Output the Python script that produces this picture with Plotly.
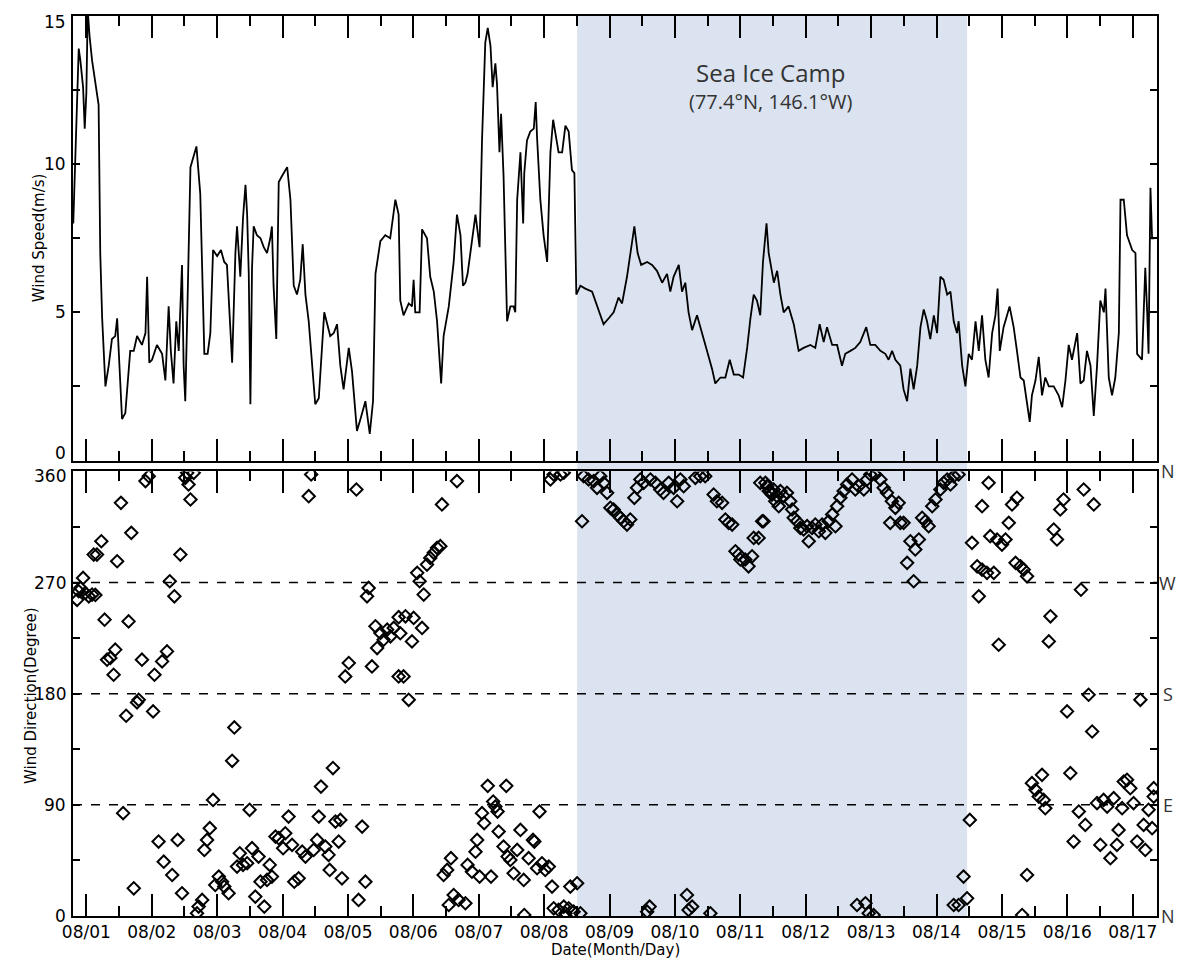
import plotly.graph_objects as go
from plotly.subplots import make_subplots

# ---------------- data (hours since 08/01 00:00) ----------------
speed_h = [-4.8,-2.8,-2.2,-1.2,-0.6,0,0.5,1.2,2.1,3.3,4.5,5.1,5.8,7.0,8.2,9.4,10.6,11.3,11.9,13.1,14.3,16.1,17.4,18.6,20.4,21.7,22.3,23.1,24.1,25.9,27.8,29.0,30.2,31.0,32.0,33.0,33.9,34.5,35.1,35.7,36.3,37.0,38.2,40.4,41.8,43.3,44.5,45.5,46.5,48.0,49.4,50.6,51.6,53.5,54.7,55.3,55.9,56.5,57.5,58.4,59.0,59.6,60.2,60.8,61.4,62.6,63.9,65.1,66.3,67.5,68.1,68.7,69.7,70.6,71.8,73.7,74.9,76.1,77.3,78.5,79.4,80.4,81.6,82.8,84.0,85.3,86.5,87.3,89.5,90.8,92.0,93.2,94.4,96.3,97.5,99.3,100.6,102.4,104.0,105.2,106.1,107.9,109.7,111.5,113.4,114.6,
           115.2,116.4,118.3,119.5,120.1,120.7,122.3,123.2,125.0,126.2,127.5,128.7,130.2,131.1,133.0,134.8,136.0,137.3,138.2,139.1,139.9,142.8,144.3,145.2,146.4,147.3,148.3,149.1,150.1,150.7,151.6,152.2,153.1,154.4,155.6,156.8,157.4,158.1,159.3,160.3,160.7,161.7,162.9,164.2,164.9,165.4,166.6,167.8,169.1,170.3,171.3,172.1,173.3,174.6,175.8,177.0,178.2,179.1,179.8,181.3,183.1,185.6,187.4,189.8,191.7,193.5,195.3,196.6,198.4,199.6,201.1,202.3,203.6,205.8,207.6,209.4,211.3,213.1,214.3,215.5,217.4,218.6,219.8,221.0,222.3,224.1,226.0,227.8,229.6,230.8,232.7,234.5,236.1,237.6,239.4,241.0,242.5,243.7,244.9,246.1,247.3,248.3,249.6,
           250.4,252.3,253.5,254.7,255.9,257.7,259.6,261.4,263.2,265.7,267.5,269.1,270.6,271.8,273.7,275.5,277.3,278.5,280.4,282.2,284.0,286.2,287.7,289.5,291.4,293.2,294.4,295.7,296.9,298.7,299.9,301.2,302.4,303.6,304.9,306.1,307.3,308.5,309.7,311.0,312.2,313.4,314.6,315.9,317.1,318.3,319.5,320.1,321.4,322.6,323.8,325.0,326.3,327.5,328.7,329.9,331.1,332.4,333.6,334.4,335.2,336.6,338.8,340.3,341.5,342.8,344.0,345.2,346.2,347.0,348.3,349.5,350.7,351.9,353.2,355.0,356.8,358.1,359.3,360.5,361.7,363.6,364.8,366.0,367.2,368.5,369.7,370.9,372.1,373.4,374.0,375.2,376.4,377.6,378.9,379.5,380.7,381.9,383.8,385.0,385.6,387.4,388.6,389.3,389.8,390.5,391.1,391.9]
speed_ms = [8.0,13.9,13.5,12.6,11.2,12.4,15.2,14.3,13.5,12.7,12.0,7.0,4.8,2.5,3.2,4.1,4.2,4.8,3.7,1.4,1.6,3.7,3.7,4.2,3.9,4.3,6.2,3.3,3.4,3.9,3.6,2.7,5.2,3.7,2.6,4.7,3.7,5.0,6.6,3.2,2.0,4.8,9.9,10.6,9.0,3.6,3.6,4.3,7.1,6.9,7.1,6.7,6.6,3.3,7.0,7.9,7.0,6.2,8.2,9.3,8.3,6.3,1.9,6.5,7.9,7.6,7.5,7.2,7.0,7.5,7.9,5.9,4.1,9.4,9.6,9.9,8.8,5.9,5.6,6.1,7.3,5.6,4.7,3.3,1.9,2.1,3.9,5.0,4.2,4.3,4.6,3.2,2.4,3.8,3.0,1.0,1.4,2.0,0.9,2.0,6.3,7.4,7.6,7.5,8.8,8.3,
            5.4,4.9,5.3,5.2,6.1,5.0,5.0,7.8,7.5,6.2,5.7,4.7,2.6,4.2,5.2,6.7,8.3,7.6,5.9,6.0,6.3,8.3,7.2,10.8,14.1,14.6,14.0,12.6,13.4,12.7,10.4,11.7,9.6,4.7,5.2,5.2,5.0,8.8,10.4,8.0,9.7,10.8,11.1,11.2,12.1,10.9,8.8,7.6,6.7,10.4,11.5,11.1,10.4,10.4,11.3,11.1,9.8,9.7,5.6,5.9,5.8,5.7,5.2,4.6,4.8,5.0,5.5,5.3,6.2,7.0,7.9,7.0,6.6,6.7,6.6,6.4,6.0,6.3,5.7,6.2,6.6,5.7,6.0,5.0,4.4,4.9,4.3,3.7,3.1,2.6,2.8,2.8,3.4,2.9,2.9,2.8,3.8,4.8,5.6,5.4,4.9,6.7,8.0,
            7.0,6.0,6.4,5.6,5.0,5.2,4.6,3.7,3.8,3.9,3.8,4.6,4.0,4.5,3.9,3.9,3.2,3.6,3.7,3.8,4.0,4.5,3.9,3.9,3.7,3.6,3.4,3.7,3.4,3.2,2.4,2.0,3.1,2.4,3.2,4.5,5.1,4.7,4.1,4.9,4.3,6.2,6.1,5.6,5.7,4.7,4.3,4.7,3.2,2.5,3.6,3.4,4.7,3.7,4.9,3.4,2.8,4.3,4.9,5.8,3.7,4.5,5.2,4.5,3.7,2.8,2.7,2.0,1.3,2.2,2.7,3.5,2.2,2.8,2.5,2.5,2.2,1.8,2.7,3.9,3.4,4.3,2.6,2.7,3.7,3.2,1.5,3.2,5.4,5.0,5.8,2.8,2.2,2.8,4.3,8.8,8.8,7.6,7.1,7.0,3.6,3.4,6.5,5.0,3.6,9.2,7.5,7.5]

dir_h = [-3.4,-2.2,-1.2,-2.8,-0.4,0.9,2.1,3.3,2.7,3.9,5.5,6.7,7.6,8.8,10.6,10.0,11.3,12.7,13.5,14.6,16.5,15.5,17.4,18.6,19.2,20.4,21.7,22.9,24.5,25.0,26.5,27.8,28.4,29.6,30.6,31.5,32.3,33.5,34.5,35.1,36.3,37.0,37.5,38.2,39.4,40.6,41.2,42.5,43.3,44.3,45.3,46.5,47.3,48.6,49.8,50.6,52.2,53.5,54.3,55.3,56.3,57.5,59.0,59.9,60.8,62.0,63.2,63.9,65.3,66.3,67.3,68.1,69.4,70.6,72.2,73.0,74.2,75.5,76.3,77.9,79.2,80.4,81.6,82.5,83.4,84.7,85.3,86.1,87.7,88.9,89.3,90.5,91.4,92.6,93.2,93.8,95.0,96.3,99.1,99.9,101.2,102.4,103.0,103.6,104.8,106.1,106.7,107.9,109.1,110.4,111.6,112.8,114.6,114.6,
         115.2,116.4,117.1,118.3,119.5,120.1,121.4,122.3,123.2,123.8,125.0,126.2,127.5,128.7,129.9,130.5,136.0,131.1,132.4,133.8,133.0,134.8,136.6,139.1,139.9,141.5,142.8,143.4,144.3,145.2,146.0,147.3,148.5,149.3,150.1,150.9,151.3,153.1,154.1,154.6,155.6,156.8,158.1,159.3,160.5,160.7,162.3,163.9,164.4,165.4,166.3,167.2,168.4,169.7,170.9,171.5,173.3,175.2,175.8,177.0,177.6,178.8,180.1,181.3,170.3,171.5,174.0,175.2,
         181.9,182.5,184.3,186.2,187.4,188.6,189.8,191.1,192.3,193.5,194.8,196.0,197.2,198.4,199.6,201.1,202.1,203.3,204.5,205.8,206.7,207.0,208.8,210.6,211.8,213.7,215.5,216.8,218.0,219.2,220.4,221.0,222.3,223.5,225.3,227.1,229.0,230.2,231.4,233.3,234.5,235.7,237.0,238.2,239.4,240.0,241.8,243.0,244.3,244.9,246.7,248.0,249.2,250.4,251.6,252.8,254.1,
         247.3,248.5,249.8,251.0,252.2,253.5,254.7,255.9,257.1,258.3,259.0,259.6,260.8,262.0,263.2,265.1,264.5,266.3,267.5,268.8,270.0,271.2,272.4,273.7,274.9,275.5,276.7,277.9,279.2,281.0,282.2,283.4,285.3,286.5,287.7,289.5,291.4,292.6,293.8,295.0,295.6,296.9,298.1,298.7,299.9,301.2,302.4,303.6,304.2,305.5,306.7,307.9,309.1,310.4,311.6,313.4,314.6,315.9,317.1,318.3,320.1,318.3,320.1,321.9,323.2,282.8,285.9,287.1,288.9,
         324.2,325.0,326.9,327.5,328.7,328.7,330.5,331.1,331.7,333.0,334.2,334.8,336.0,337.3,338.5,339.7,341.5,341.0,342.8,344.0,345.2,343.4,345.2,347.0,348.3,349.5,350.7,351.3,351.9,353.2,353.8,355.0,356.2,357.4,358.6,359.9,361.1,362.3,364.2,365.0,366.0,366.6,367.8,369.1,369.7,370.9,372.1,373.3,374.6,375.8,377.0,378.2,378.8,380.1,380.7,381.9,383.1,384.3,385.6,386.8,388.0,388.6,389.8,391.1,391.7,391.7]
dir_deg = [256,265.7,273.8,263,261.6,258.9,260.3,260,292.7,292.7,303.5,240,207.6,209,215.7,195.4,287.3,334.6,83.3,162.2,310.3,238.6,22.4,173,175.1,207.6,352.2,356.2,165.7,195.4,60.3,206.2,44,214.3,271.1,33.2,258.9,61.6,292.7,18.4,354.9,358.9,349.5,337.3,358.9,2.2,7.6,13,53.5,61.6,71.1,94,25.1,31.9,27.8,23.8,18.4,125.7,152.7,40,50.8,41.4,42.7,86,54.9,15.7,48.1,27.8,7.6,29.2,41.4,31.9,64.3,63,54.9,67,80.5,57.6,27.8,30.5,52.1,48.1,340,357.6,53.5,61.6,80.5,104.8,56.2,49.5,37.3,119.8,76.5,60.3,77.8,30.5,194,204.9,345.4,13,72.4,27.8,258.9,265.7,202.1,234.6,217,229.2,223.8,231.9,226.5,233.3,194,242,
           229,194,242.7,175.1,222.4,241.4,277.9,271.1,233.3,260.3,284.6,290,294.1,298.2,299.5,333.3,352.2,33.2,37.3,46.8,8.9,17,13,10.3,41.4,35.9,52.1,61.6,31.9,83.3,75.2,105.4,31.9,92.7,88.6,84.6,68.4,56.2,105.4,48.1,45.4,34.6,53.5,69.7,29.2,0.8,46.8,61.6,60.3,38.7,84.6,42.7,37.3,40,23.8,6.2,4.9,7.6,2.2,6.2,23.8,3.5,26.5,2.2,353.5,357.6,357.6,359,
           319.7,356.2,353.5,352.2,346.8,356.2,350.8,342.7,330.6,329.2,325.2,322.5,319.7,317,321.1,338.7,346.8,353.5,350.8,3.5,7.6,353.5,350.8,345.4,342.7,350.8,346.8,335.9,353.5,348.1,17,4.9,7.6,354.9,356.2,356.2,2.2,341.3,335.9,334.6,321.1,318.4,317,295.4,292.7,288.7,288.7,283.2,291.3,306.2,306.2,319.7,350.8,344.1,341.3,335.9,331.9,
           350.8,319.7,348.1,344.1,345.4,340,344.1,340,342.7,335.9,329.2,322.5,319.7,314.3,313,303.5,315.7,314.3,317,311.6,317,310.3,319.7,325.2,315.7,331.9,338.7,344.1,349.5,353.5,345.4,348.1,345.4,353.5,357.6,357.6,353.5,346.8,342.7,318.4,335.9,330.6,334.6,318.4,318.4,286,303.5,271.1,296.8,304.9,322.5,319.7,315.7,331.9,337.3,345.4,350.8,353.5,349.5,356.2,357.6,8.9,8.9,31.9,14.3,8.9,10.3,2.2,0.8,
           77.8,302.2,283.2,258.9,331.9,280.5,277.9,350.8,307.6,277.9,304.9,219.7,300.8,304.9,318.4,333.3,338.7,286,283.2,280.5,33.2,0.8,275.1,107.6,102.2,96.7,114.3,94,87.3,222.4,242.7,313,304.9,329.2,337.3,165.7,115.7,60.3,84.6,264.3,345.4,73.8,179.2,149.4,333.3,91.4,57.6,94,88.6,46.8,95.4,57.6,69.7,87.3,108.9,110.3,103.5,91.4,60.3,175.1,73.8,53.5,86,71.1,103.5,96.7]

tick_vals = [24 * i for i in range(17)]
tick_text = ["08/%02d" % (i + 1) for i in range(17)]
speed_ticks = [0, 5, 10, 15]
dir_ticks = [0, 90, 180, 270, 360]
camp_start, camp_end = 180.1, 323.2
x_range = [-4.9, 392.9]
compass_deg = [360, 270, 180, 90, 0]
compass_lbl = ["N", "W", "S", "E", "N"]

# ---------------- figure ----------------
# page body keeps its default 8px margin: figure sized so the page does not overflow
fig = make_subplots(rows=2, cols=1, shared_xaxes=False, vertical_spacing=0.0122)

fig.add_trace(go.Scatter(x=speed_h, y=speed_ms, mode="lines",
                         line=dict(color="black", width=1.8), showlegend=False), row=1, col=1)
fig.add_trace(go.Scatter(x=dir_h, y=dir_deg, mode="markers",
                         marker=dict(symbol="diamond-open", size=9.5, color="black",
                                     line=dict(width=2, color="black")),
                         showlegend=False), row=2, col=1)

fig.add_shape(type="rect", xref="x", yref="paper", x0=camp_start, x1=camp_end, y0=0, y1=1,
              fillcolor="#dae3ef", line_width=0, layer="below")
for v in [90, 180, 270]:
    fig.add_shape(type="line", xref="x2 domain", yref="y2", x0=0, x1=1, y0=v, y1=v,
                  line=dict(color="black", width=1.5, dash="dash"), layer="below")

font_main = "DejaVu Sans"
xcommon = dict(range=x_range, tickvals=tick_vals, ticks="inside", ticklen=22, tickwidth=1.6,
               tickcolor="black", showline=True, linecolor="black", linewidth=2, mirror="ticks",
               showgrid=False, zeroline=False,
               minor=dict(dtick=12, tick0=0, ticks="inside", ticklen=10, tickwidth=1.6, tickcolor="black"))
fig.update_xaxes(**xcommon, showticklabels=False, row=1, col=1)
fig.update_xaxes(**xcommon, ticktext=tick_text, showticklabels=True,
                 tickfont=dict(family=font_main, size=17, color="black"), row=2, col=1)

ycommon = dict(ticks="inside", ticklen=7, tickwidth=1.6, tickcolor="black", showline=True,
               linecolor="black", linewidth=2, mirror="ticks", showgrid=False, zeroline=False,
               showticklabels=False)
fig.update_yaxes(**ycommon, range=[0, 15], tickvals=speed_ticks,
                 minor=dict(dtick=2.5, tick0=0, ticks="inside", ticklen=7, tickwidth=1.6, tickcolor="black"),
                 row=1, col=1)
fig.update_yaxes(**ycommon, range=[0, 360], tickvals=dir_ticks,
                 minor=dict(dtick=45, tick0=0, ticks="inside", ticklen=7, tickwidth=1.6, tickcolor="black"),
                 row=2, col=1)

annots = [
    dict(text="Sea Ice Camp", x=251, y=13.1, xref="x", yref="y", showarrow=False,
         font=dict(family="Open Sans", size=24, color="#333333")),
    dict(text="(77.4°N, 146.1°W)", x=251, y=12.1, xref="x", yref="y", showarrow=False,
         font=dict(family="Open Sans", size=20, color="#333333")),
    dict(text="Wind Speed(m/s)", x=-0.0415, y=7.5, xref="paper", yref="y", showarrow=False,
         textangle=-90, font=dict(family=font_main, size=15, color="black")),
    dict(text="Wind Direction(Degree)", x=-0.0489, y=179, xref="paper", yref="y2", showarrow=False,
         textangle=-90, font=dict(family=font_main, size=15, color="black")),
    dict(text="Date(Month/Day)", x=0.5, y=-0.0375, xref="paper", yref="paper", showarrow=False,
         yanchor="middle", font=dict(family=font_main, size=15, color="black")),
]
# y tick labels (end labels nudged inward, as in the original IDL plot)
speed_nudge = {0: 0.25, 15: -0.2}
for t in speed_ticks:
    annots.append(dict(text=str(t), x=-0.005, y=t + speed_nudge.get(t, 0), xref="paper", yref="y",
                       xanchor="right", yanchor="middle", showarrow=False,
                       font=dict(family=font_main, size=17, color="black")))
dir_nudge = {360: -4.0}
for t in dir_ticks:
    annots.append(dict(text=str(t), x=-0.005, y=t + dir_nudge.get(t, 0), xref="paper", yref="y2",
                       xanchor="right", yanchor="middle", showarrow=False,
                       font=dict(family=font_main, size=17, color="black")))
for d, l in zip(compass_deg, compass_lbl):
    annots.append(dict(text=l, x=1.0101, y=d, xref="paper", yref="y2", showarrow=False,
                       xanchor="center", yanchor="middle",
                       font=dict(family="Open Sans", size=18, color="#333333")))

fig.update_layout(width=1170, height=954, margin=dict(l=65, r=21, t=6, b=46),
                  paper_bgcolor="white", plot_bgcolor="rgba(0,0,0,0)", annotations=annots)

fig.write_html("out.html")
